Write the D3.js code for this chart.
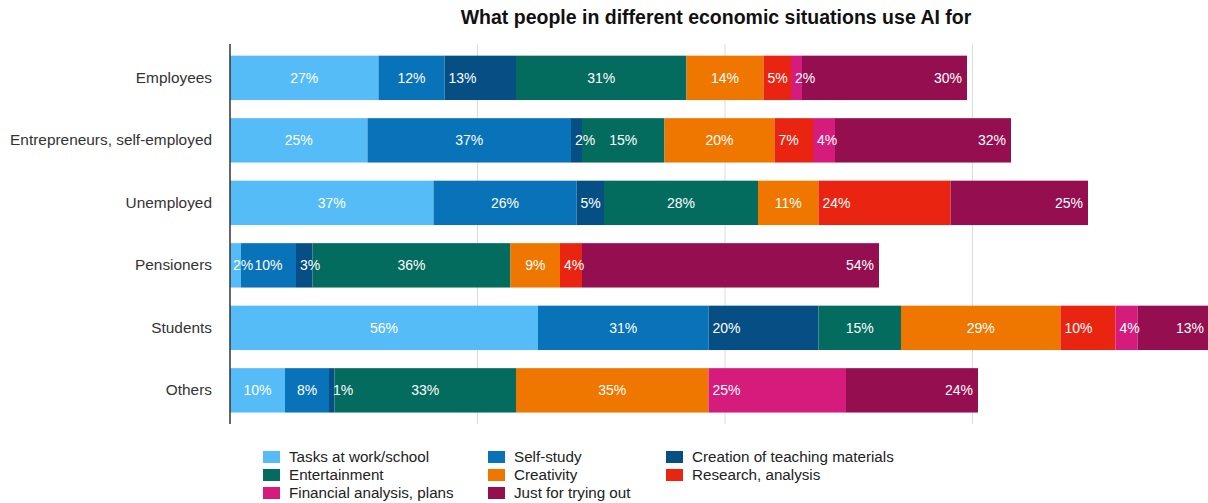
<!DOCTYPE html>
<html>
<head>
<meta charset="utf-8">
<script src="https://cdn.jsdelivr.net/npm/d3@7"></script>
<style>
  html, body { margin: 0; padding: 0; background: #fff; }
  svg { display: block; font-family: "Liberation Sans", Arial, Helvetica, sans-serif; }
</style>
</head>
<body>
<svg id="chart" width="1208" height="503"></svg>
<script>
// Groups shown as rows
const groups = ["Employees", "Entrepreneurs, self-employed", "Unemployed", "Pensioners", "Students", "Others"];

// Uses of AI (stack order, left to right)
const uses = [
  "Tasks at work/school", "Self-study", "Creation of teaching materials",
  "Entertainment", "Creativity", "Research, analysis",
  "Financial analysis, plans", "Just for trying out"
];

// Share (%) per group, one array per use, in the order of `groups`
const tasksWorkSchool   = [27, 25, 37,  2, 56, 10];
const selfStudy         = [12, 37, 26, 10, 31,  8];
const teachingMaterials = [13,  2,  5,  3, 20,  1];
const entertainment     = [31, 15, 28, 36, 15, 33];
const creativity        = [14, 20, 11,  9, 29, 35];
const research          = [ 5,  7, 24,  4, 10,  0];
const financial         = [ 2,  4,  0,  0,  4, 25];
const justTrying        = [30, 32, 25, 54, 13, 24];

const seriesValues = [tasksWorkSchool, selfStudy, teachingMaterials, entertainment,
                      creativity, research, financial, justTrying];

// Value axis ticks (gridlines)
const gridTicks = [45, 90, 135];

const colors = ["#55bcf8", "#0973b9", "#064f84", "#046b5f", "#ef7700", "#e92511", "#d51b7b", "#950f50"];
const labelAnchor = ["middle", "middle", "start", "middle", "middle", "start", "start", "end"];

const svg = d3.select("#chart");

// Build one row object per group for d3.stack
const table = groups.map((g, i) => {
  const row = { group: g };
  uses.forEach((u, k) => { row[u] = seriesValues[k][i]; });
  return row;
});

const stacked = d3.stack().keys(uses)(table);

const x = d3.scaleLinear().domain([0, 180]).range([230, 1220]);
const y = d3.scaleBand().domain(groups).range([46.6, 421.6]).paddingInner(0.29).paddingOuter(0.145);

// Title
svg.append("text")
  .attr("x", 716).attr("y", 24)
  .attr("text-anchor", "middle")
  .attr("font-size", 19.5).attr("font-weight", "bold").attr("fill", "#111")
  .text("What people in different economic situations use AI for");

// Gridlines
svg.append("g")
  .selectAll("line").data(gridTicks).join("line")
  .attr("x1", d => x(d)).attr("x2", d => x(d))
  .attr("y1", 44).attr("y2", 424)
  .attr("stroke", "#dcdcdc").attr("stroke-width", 1);

// Bars
const layers = svg.append("g").selectAll("g").data(stacked).join("g")
  .attr("fill", (d, i) => colors[i]);

layers.selectAll("rect").data(d => d).join("rect")
  .attr("x", d => x(d[0]))
  .attr("y", d => y(d.data.group))
  .attr("width", d => x(d[1]) - x(d[0]))
  .attr("height", y.bandwidth());

// Value labels
const labelLayers = svg.append("g").selectAll("g").data(stacked).join("g");
labelLayers.each(function (layer, k) {
  d3.select(this).selectAll("text")
    .data(layer.filter(d => d[1] - d[0] > 0))
    .join("text")
    .attr("y", d => y(d.data.group) + y.bandwidth() / 2)
    .attr("dy", "0.35em")
    .attr("font-size", 14)
    .attr("fill", "#fff")
    .attr("text-anchor", labelAnchor[k])
    .attr("x", d => {
      if (labelAnchor[k] === "start") return x(d[0]) + 4;
      if (labelAnchor[k] === "end") return x(d[1]) - 5;
      return (x(d[0]) + x(d[1])) / 2;
    })
    .text(d => (d[1] - d[0]) + "%")
    .each(function (d) {
      // keep centred labels from spilling past the left edge of narrow segments
      if (labelAnchor[k] !== "middle") return;
      const w = this.getComputedTextLength();
      const left = (x(d[0]) + x(d[1])) / 2 - w / 2;
      if (left < x(d[0]) + 3) {
        d3.select(this).attr("text-anchor", "start").attr("x", x(d[0]) + 3);
      }
    });
});

// Category axis
const yAxis = svg.append("g")
  .attr("transform", "translate(230,0)")
  .call(d3.axisLeft(y).tickSize(0).tickPadding(18));
yAxis.select(".domain").remove();
yAxis.selectAll("text")
  .attr("font-size", 15.4).attr("fill", "#333")
  .attr("font-family", "'Liberation Sans', Arial, sans-serif");

svg.append("line")
  .attr("x1", 230).attr("x2", 230).attr("y1", 44).attr("y2", 424)
  .attr("stroke", "#333").attr("stroke-width", 1.5);

// Legend: three columns, filled row by row
const legendCols = [263, 488, 666];
const legendRows = [457, 475, 493];
const legend = svg.append("g").selectAll("g").data(uses).join("g")
  .attr("transform", (d, i) => `translate(${legendCols[i % 3]},${legendRows[Math.floor(i / 3)]})`);
legend.append("rect")
  .attr("x", 0).attr("y", -6).attr("width", 17).attr("height", 12)
  .attr("fill", (d, i) => colors[i]);
legend.append("text")
  .attr("x", 26).attr("dy", "0.35em")
  .attr("font-size", 15.2).attr("fill", "#222")
  .text(d => d);
</script>
</body>
</html>
